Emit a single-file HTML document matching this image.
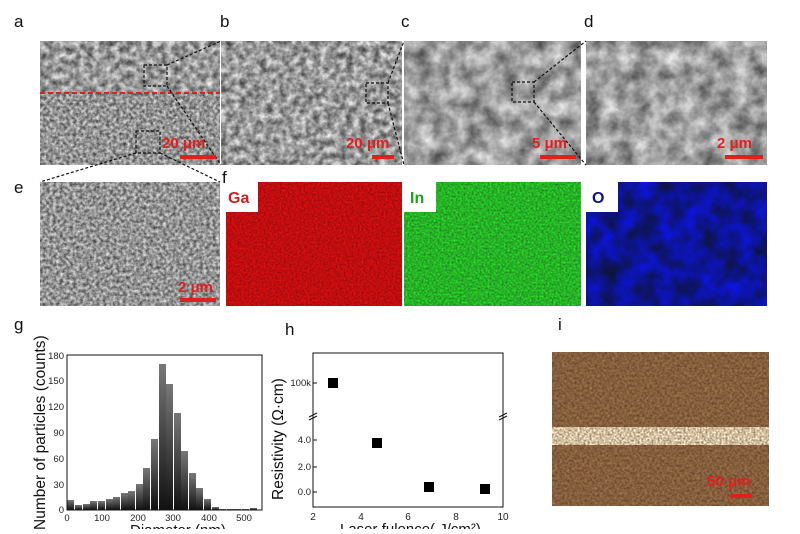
<!DOCTYPE html>
<html><head><meta charset="utf-8"><style>
body{margin:0;background:#fff;width:800px;height:529px;overflow:hidden;font-family:"Liberation Sans",sans-serif}
</style></head><body>
<svg width="800" height="529" viewBox="0 0 800 529" xmlns="http://www.w3.org/2000/svg" font-family="Liberation Sans, sans-serif">
<defs>
<filter id="sem" x="0" y="0" width="100%" height="100%" color-interpolation-filters="sRGB"><feTurbulence type="fractalNoise" baseFrequency="0.15" numOctaves="3" seed="5" result="t"/><feColorMatrix in="t" type="matrix" values="0.9 0 0 0 0.15 0.9 0 0 0 0.15 0.9 0 0 0 0.15 0 0 0 0 1"/></filter>
<filter id="semf" x="0" y="0" width="100%" height="100%" color-interpolation-filters="sRGB"><feTurbulence type="fractalNoise" baseFrequency="0.3" numOctaves="2" seed="8" result="t"/><feColorMatrix in="t" type="matrix" values="0.9 0 0 0 0.13 0.9 0 0 0 0.13 0.9 0 0 0 0.13 0 0 0 0 1"/></filter>
<filter id="semc" x="0" y="0" width="100%" height="100%" color-interpolation-filters="sRGB"><feTurbulence type="fractalNoise" baseFrequency="0.06" numOctaves="4" seed="2" result="t"/><feColorMatrix in="t" type="matrix" values="0.8 0 0 0 0.22 0.8 0 0 0 0.22 0.8 0 0 0 0.22 0 0 0 0 1"/></filter>
<filter id="red" x="0" y="0" width="100%" height="100%" color-interpolation-filters="sRGB"><feTurbulence type="fractalNoise" baseFrequency="0.5" numOctaves="2" seed="4" result="t"/><feColorMatrix in="t" type="matrix" values="0.6 0 0 0 0.45 0 0 0 0 0.05 0 0 0 0 0.06 0 0 0 0 1"/></filter>
<filter id="grn" x="0" y="0" width="100%" height="100%" color-interpolation-filters="sRGB"><feTurbulence type="fractalNoise" baseFrequency="0.5" numOctaves="2" seed="6" result="t"/><feColorMatrix in="t" type="matrix" values="0 0 0 0 0.15 0.7 0 0 0 0.35 0 0 0 0 0.15 0 0 0 0 1"/></filter>
<filter id="blu" x="0" y="0" width="100%" height="100%" color-interpolation-filters="sRGB"><feTurbulence type="fractalNoise" baseFrequency="0.05" numOctaves="4" seed="9" result="t"/><feColorMatrix in="t" type="matrix" values="0 0 0 0 0.05 0 0 0 0 0.08 1.0 0 0 0 0.08 0 0 0 0 1"/></filter>
<filter id="brn" x="0" y="0" width="100%" height="100%" color-interpolation-filters="sRGB"><feTurbulence type="fractalNoise" baseFrequency="0.4" numOctaves="2" seed="7" result="t"/><feColorMatrix in="t" type="matrix" values="0.4 0 0 0 0.32 0.3 0 0 0 0.22 0.2 0 0 0 0.14 0 0 0 0 1"/></filter>
<filter id="band" x="0" y="0" width="100%" height="100%" color-interpolation-filters="sRGB"><feTurbulence type="fractalNoise" baseFrequency="0.5" numOctaves="2" seed="3" result="t"/><feColorMatrix in="t" type="matrix" values="0.9 0 0 0 0.38 0.9 0 0 0 0.3 0.9 0 0 0 0.18 0 0 0 0 1"/></filter>
<linearGradient id="bg" x1="0" y1="0" x2="0" y2="1"><stop offset="0" stop-color="#777"/><stop offset="1" stop-color="#111"/></linearGradient>
</defs>
<g font-size="17" fill="#111">
<text x="14" y="27">a</text><text x="220" y="27">b</text><text x="401" y="27">c</text><text x="584" y="27">d</text>
<text x="14" y="193">e</text><text x="222" y="183">f</text>
<text x="14" y="330">g</text><text x="285" y="335">h</text><text x="558" y="330">i</text>
</g>
<rect x="40" y="41" width="180" height="124" filter="url(#sem)"/>
<rect x="40" y="93" width="180" height="72" filter="url(#semf)"/>
<line x1="40" y1="93" x2="220" y2="93" stroke="#e02020" stroke-width="2" stroke-dasharray="5,3"/>
<rect x="221" y="41" width="181" height="124" filter="url(#sem)"/>
<rect x="404" y="41" width="177" height="124" filter="url(#semc)"/>
<rect x="586" y="41" width="181" height="124" filter="url(#semc)"/>
<g fill="none" stroke="#111" stroke-dasharray="3,2" stroke-width="1.2">
<rect x="144" y="65" width="23" height="21"/><rect x="136" y="131" width="24" height="22"/>
<rect x="366" y="83" width="22" height="20"/><rect x="512" y="82" width="22" height="20"/>
<line x1="167" y1="65" x2="221" y2="41"/><line x1="167" y1="86" x2="221" y2="165"/>
<line x1="388" y1="83" x2="404" y2="41"/><line x1="388" y1="103" x2="404" y2="165"/>
<line x1="534" y1="82" x2="586" y2="41"/><line x1="534" y1="102" x2="586" y2="165"/>
<line x1="136" y1="153" x2="40" y2="182"/><line x1="160" y1="153" x2="220" y2="182"/>
</g>
<g fill="#e02020" font-weight="bold" font-size="15">
<text x="162" y="148">20 μm</text><rect x="180" y="155" width="36" height="4"/>
<text x="346" y="148">20 μm</text><rect x="372" y="155" width="22" height="4"/>
<text x="532" y="148">5 μm</text><rect x="540" y="155" width="36" height="4"/>
<text x="717" y="148">2 μm</text><rect x="725" y="155" width="38" height="4"/>
</g>
<rect x="40" y="182" width="180" height="124" filter="url(#semf)"/>
<text x="178" y="292" fill="#e02020" font-weight="bold" font-size="15">2 μm</text><rect x="180" y="298" width="36" height="4" fill="#e02020"/>
<rect x="226" y="182" width="176" height="124" filter="url(#red)"/>
<rect x="404" y="182" width="177" height="124" filter="url(#grn)"/>
<rect x="586" y="182" width="181" height="124" filter="url(#blu)"/>
<rect x="226" y="182" width="32" height="30" fill="#fff"/><text x="228" y="203" fill="#d02020" font-weight="bold" font-size="16">Ga</text>
<rect x="404" y="182" width="32" height="30" fill="#fff"/><text x="410" y="203" fill="#20a020" font-weight="bold" font-size="16">In</text>
<rect x="586" y="182" width="32" height="30" fill="#fff"/><text x="592" y="203" fill="#101080" font-weight="bold" font-size="16">O</text>
<g>
<text transform="translate(45,530) rotate(-90)" font-size="15.5" fill="#111">Number of particles (counts)</text>
<g fill="url(#bg)">
<rect x="67" y="500" width="7" height="10"/><rect x="75" y="505" width="7" height="5"/><rect x="83" y="504" width="7" height="6"/><rect x="90" y="501" width="7" height="9"/><rect x="98" y="501" width="7" height="9"/><rect x="106" y="499" width="7" height="11"/><rect x="113" y="497" width="7" height="13"/><rect x="121" y="493" width="7" height="17"/><rect x="128" y="491" width="7" height="19"/><rect x="136" y="484" width="7" height="26"/><rect x="143" y="468" width="7" height="42"/><rect x="151" y="439" width="7" height="71"/><rect x="159" y="364" width="7" height="146"/><rect x="166" y="384" width="7" height="126"/><rect x="174" y="413" width="7" height="97"/><rect x="181" y="451" width="7" height="59"/><rect x="189" y="473" width="7" height="37"/><rect x="196" y="488" width="7" height="22"/><rect x="204" y="499" width="7" height="11"/><rect x="212" y="507" width="7" height="3"/><rect x="219" y="509" width="7" height="1"/><rect x="227" y="509" width="7" height="1"/><rect x="234" y="509" width="7" height="1"/><rect x="242" y="509" width="7" height="1"/><rect x="250" y="508" width="7" height="2"/>
</g>
<rect x="67" y="355" width="195" height="155" fill="none" stroke="#111"/>
<g font-size="9.5" fill="#222" text-anchor="end">
<text x="64" y="359">180</text><text x="64" y="384">150</text><text x="64" y="410">120</text><text x="64" y="436">90</text><text x="64" y="462">60</text><text x="64" y="488">30</text><text x="64" y="513">0</text>
</g>
<g font-size="9.5" fill="#222" text-anchor="middle">
<text x="67" y="521">0</text><text x="102" y="521">100</text><text x="138" y="521">200</text><text x="173" y="521">300</text><text x="209" y="521">400</text><text x="244" y="521">500</text>
</g>
<text x="130" y="535" font-size="15" fill="#111">Diameter (nm)</text>
</g>
<g>
<text transform="translate(283,500) rotate(-90)" font-size="15.5" fill="#111">Resistivity (Ω·cm)</text>
<rect x="313" y="353" width="190" height="154" fill="none" stroke="#111"/>
<g stroke="#111"><line x1="313" y1="383" x2="317" y2="383"/><line x1="313" y1="440" x2="317" y2="440"/><line x1="313" y1="467" x2="317" y2="467"/><line x1="313" y1="492" x2="317" y2="492"/></g>
<g stroke="#111" stroke-width="1"><line x1="309" y1="417" x2="317" y2="413"/><line x1="309" y1="420" x2="317" y2="416"/><line x1="499" y1="417" x2="507" y2="413"/><line x1="499" y1="420" x2="507" y2="416"/></g>
<g font-size="9.5" fill="#222" text-anchor="end">
<text x="311" y="386">100k</text><text x="311" y="443">4.0</text><text x="311" y="470">2.0</text><text x="311" y="495">0.0</text>
</g>
<g font-size="10" fill="#222" text-anchor="middle">
<text x="313" y="520">2</text><text x="361" y="520">4</text><text x="408" y="520">6</text><text x="456" y="520">8</text><text x="503" y="520">10</text>
</g>
<text x="340" y="534" font-size="15" fill="#111">Laser fulence( J/cm²)</text>
<g fill="#000"><rect x="328" y="378" width="10" height="10"/><rect x="372" y="438" width="10" height="10"/><rect x="424" y="482" width="10" height="10"/><rect x="480" y="484" width="10" height="10"/></g>
</g>
<rect x="552" y="352" width="217" height="154" filter="url(#brn)"/>
<rect x="552" y="427" width="217" height="18" filter="url(#band)"/>
<text x="707" y="486" fill="#e02020" font-weight="bold" font-size="15">50 μm</text><rect x="730" y="494" width="22" height="4" fill="#e02020"/>
</svg>
</body></html>
